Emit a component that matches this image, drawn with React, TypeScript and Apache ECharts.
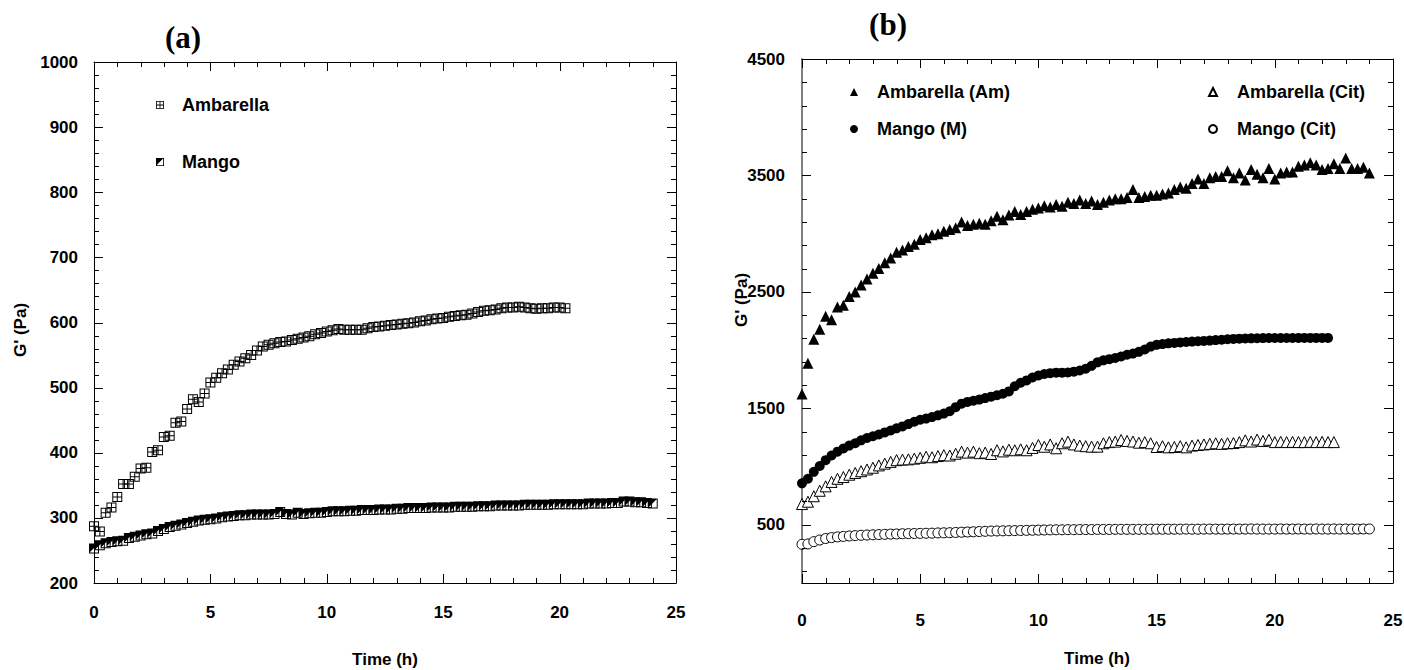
import React, { useEffect, useRef } from "react";
import * as echarts from "echarts";

// ---------- data ----------
const TIME_H = [
  0, 0.25, 0.5, 0.75, 1, 1.25, 1.5, 1.75, 2, 2.25, 2.5, 2.75, 3, 3.25, 3.5, 3.75,
  4, 4.25, 4.5, 4.75, 5, 5.25, 5.5, 5.75, 6, 6.25, 6.5, 6.75, 7, 7.25, 7.5, 7.75,
  8, 8.25, 8.5, 8.75, 9, 9.25, 9.5, 9.75, 10, 10.25, 10.5, 10.75, 11, 11.25, 11.5, 11.75,
  12, 12.25, 12.5, 12.75, 13, 13.25, 13.5, 13.75, 14, 14.25, 14.5, 14.75, 15, 15.25, 15.5, 15.75,
  16, 16.25, 16.5, 16.75, 17, 17.25, 17.5, 17.75, 18, 18.25, 18.5, 18.75, 19, 19.25, 19.5, 19.75,
  20, 20.25, 20.5, 20.75, 21, 21.25, 21.5, 21.75, 22, 22.25, 22.5, 22.75, 23, 23.25, 23.5, 23.75, 24,
];

// panel (a)
const A_AMBARELLA = [
  287, 279, 308, 316, 332, 352, 352, 363, 376, 377,
  401, 404, 424, 426, 446, 448, 467, 482, 478, 491,
  508, 515, 522, 528, 535, 540, 545, 550, 557, 563,
  566, 568, 570, 571, 573, 575, 577, 579, 582, 584,
  586, 588, 590, 589, 589, 589, 589, 591, 593, 594,
  595, 596, 597, 598, 599, 600, 602, 603, 605, 606,
  607, 609, 610, 611, 612, 614, 616, 618, 619, 620,
  622, 623, 623, 624, 623, 622, 621, 622, 622, 623,
  623, 622,
];
const A_MANGO = [
  253, 258, 261, 263, 264, 265, 269, 271, 273, 275,
  276, 280, 283, 286, 288, 290, 292, 294, 296, 297,
  298, 299, 301, 302, 303, 304, 304, 305, 305, 305,
  305, 306, 309, 306, 305, 308, 306, 307, 308, 308,
  309, 310, 310, 310, 311, 311, 312, 312, 312, 313,
  313, 313, 314, 314, 315, 315, 315, 315, 316, 316,
  316, 316, 317, 317, 317, 317, 318, 318, 318, 319,
  319, 319, 319, 319, 320, 320, 320, 320, 320, 321,
  321, 321, 321, 321, 321, 322, 322, 322, 322, 323,
  323, 325, 325, 324, 324, 323, 322,
];

// panel (b)
const B_AMBARELLA_AM = [
  1623, 1887, 2093, 2180, 2290, 2260, 2370, 2385, 2460, 2500,
  2560, 2610, 2660, 2700, 2750, 2790, 2840, 2860, 2890, 2910,
  2950, 2965, 2990, 3000, 3020, 3035, 3050, 3100, 3070, 3080,
  3090, 3080, 3110, 3150, 3120, 3160, 3190, 3165, 3190, 3210,
  3220, 3240, 3230, 3250, 3235, 3270, 3260, 3290, 3260, 3280,
  3250, 3270, 3290, 3300, 3300, 3310, 3380, 3310, 3320, 3330,
  3330, 3340, 3350, 3380, 3400, 3390, 3430, 3470, 3430, 3480,
  3490, 3490, 3540, 3480, 3520, 3460, 3550, 3510, 3480, 3560,
  3470, 3520, 3530, 3530, 3580, 3590, 3610, 3590, 3550, 3560,
  3600, 3560, 3650, 3560, 3560, 3570, 3520,
];
const B_MANGO_M = [
  856, 895, 955, 1005, 1055, 1095, 1128, 1155, 1180, 1200,
  1225, 1245, 1260, 1275, 1293, 1310, 1328, 1345, 1365, 1385,
  1402, 1412, 1425, 1440, 1455, 1475, 1510, 1540, 1555, 1565,
  1575, 1588, 1600, 1612, 1625, 1645, 1690, 1720, 1740, 1765,
  1782, 1795, 1802, 1806, 1806, 1808, 1815, 1825, 1840, 1865,
  1895, 1912, 1922, 1932, 1945, 1960, 1970, 1985, 2005, 2030,
  2045, 2052, 2058, 2062, 2066, 2070, 2073, 2076, 2079, 2082,
  2086, 2089, 2093, 2096, 2098, 2100, 2101, 2102, 2103, 2104,
  2104, 2104, 2104, 2104, 2105, 2105, 2105, 2105, 2105, 2105,
];
const B_AMBARELLA_CIT = [
  678, 698, 745, 792, 830, 868, 895, 910, 930, 945,
  960, 975, 990, 1010, 1025, 1040, 1055, 1060, 1062, 1068,
  1075, 1085, 1080, 1090, 1098, 1095, 1110, 1128, 1120, 1128,
  1115, 1120, 1108, 1140, 1130, 1145, 1140, 1148, 1140, 1160,
  1185, 1170, 1190, 1157, 1200, 1214, 1190, 1180, 1175, 1171,
  1171, 1200, 1210, 1214, 1228, 1220, 1215, 1205, 1210, 1200,
  1168, 1175, 1165, 1168, 1175, 1165, 1180, 1185, 1190, 1195,
  1200, 1195, 1200, 1202, 1210, 1225, 1215, 1232, 1220, 1230,
  1210, 1212, 1210, 1212, 1210, 1210, 1212, 1210, 1212, 1210,
  1210,
];
const B_MANGO_CIT = [
  332, 335, 355, 369, 382, 390, 396, 400, 404, 407,
  410, 412, 414, 416, 418, 420, 421, 423, 424, 425,
  426, 427, 428, 430, 431, 432, 434, 436, 438, 440,
  442, 444, 446, 447, 448, 449, 450, 451, 452, 453,
  454, 455, 456, 457, 457, 458, 458, 459, 459, 459,
  460, 460, 460, 461, 461, 461, 461, 461, 461, 462,
  462, 462, 462, 462, 462, 463, 462, 462, 463, 463,
  463, 462, 463, 463, 463, 463, 464, 463, 463, 463,
  463, 464, 463, 463, 464, 463, 463, 464, 463, 463,
  464, 463, 464, 463, 463, 464, 464,
];

// ---------- axes / ticks ----------
const X_RANGE = [0, 25];
const A_Y_RANGE = [200, 1000];
const B_Y_RANGE = [0, 4500];

const X_MAJOR = [0, 5, 10, 15, 20, 25];
const X_MINOR = [1, 2, 3, 4, 6, 7, 8, 9, 11, 12, 13, 14, 16, 17, 18, 19, 21, 22, 23, 24];
const A_Y_MAJOR = [200, 300, 400, 500, 600, 700, 800, 900, 1000];
const A_Y_MINOR = [
  220, 240, 260, 280, 320, 340, 360, 380, 420, 440, 460, 480, 520, 540, 560, 580,
  620, 640, 660, 680, 720, 740, 760, 780, 820, 840, 860, 880, 920, 940, 960, 980,
];
const B_Y_LABELS = [500, 1500, 2500, 3500, 4500];
const B_Y_MINOR = [
  100, 300, 700, 900, 1100, 1300, 1700, 1900, 2100, 2300,
  2700, 2900, 3100, 3300, 3700, 3900, 4100, 4300,
];

// ---------- styling ----------
const FONT = "Liberation Sans";
const MAJOR_LEN = 9;
const MINOR_LEN = 5;
const SYM_GRID =
  "path://M0,0H10V10H0Z M1,1V4.5H4.5V1Z M5.5,1V4.5H9V1Z M1,5.5V9H4.5V5.5Z M5.5,5.5V9H9V5.5Z";
const SYM_HALF = "path://M0,0H10V10H0Z M1,1V9H9V1Z M1,1H8.6L1,8.6Z";

const pairs = (vals: number[]) => vals.map((v, i) => [TIME_H[i], v]);

// tick items: [x, y, direction, length]; direction 0 = up from bottom, 1 = down from top,
// 2 = right from left, 3 = left from right
function tickItems(yRange: number[], yMajor: number[], yMinor: number[]) {
  const items: number[][] = [];
  X_MAJOR.forEach((t) => {
    items.push([t, yRange[0], 0, MAJOR_LEN], [t, yRange[1], 1, MAJOR_LEN]);
  });
  X_MINOR.forEach((t) => {
    items.push([t, yRange[0], 0, MINOR_LEN], [t, yRange[1], 1, MINOR_LEN]);
  });
  yMajor.forEach((v) => {
    items.push([X_RANGE[0], v, 2, MAJOR_LEN], [X_RANGE[1], v, 3, MAJOR_LEN]);
  });
  yMinor.forEach((v) => {
    items.push([X_RANGE[0], v, 2, MINOR_LEN], [X_RANGE[1], v, 3, MINOR_LEN]);
  });
  return items;
}

const renderTick = (params: any, api: any) => {
  const p = api.coord([api.value(0), api.value(1)]);
  const dir = api.value(2);
  const len = api.value(3);
  let x1 = p[0];
  let y1 = p[1];
  let x2 = x1;
  let y2 = y1;
  if (dir === 0 || dir === 1) {
    x1 = x2 = Math.round(x1) + 0.5;
    y2 = dir === 0 ? y1 - len : y1 + len;
  } else {
    y1 = y2 = Math.round(y1) + 0.5;
    x2 = dir === 2 ? x1 + len : x1 - len;
  }
  return {
    type: "line",
    shape: { x1, y1, x2, y2 },
    style: { stroke: "#000", lineWidth: 1 },
    silent: true,
  };
};

const labelStyle = (margin: number) => ({
  show: true,
  margin,
  color: "#000",
  fontSize: 17,
  fontWeight: "bold" as const,
  fontFamily: FONT,
  formatter: (v: number) => String(v),
});

function xAxis(grid: number, position: "bottom" | "top", labels: boolean, margin: number) {
  return {
    type: "value",
    gridIndex: grid,
    position,
    min: X_RANGE[0],
    max: X_RANGE[1],
    interval: 5,
    axisLine: { show: true, onZero: false, lineStyle: { color: "#000", width: 1 } },
    axisTick: { show: false },
    axisLabel: labels ? labelStyle(margin) : { show: false },
    splitLine: { show: false },
  };
}

function yAxisA(position: "left" | "right", labels: boolean) {
  return {
    type: "value",
    gridIndex: 0,
    position,
    min: A_Y_RANGE[0],
    max: A_Y_RANGE[1],
    interval: 100,
    axisLine: { show: true, onZero: false, lineStyle: { color: "#000", width: 1 } },
    axisTick: { show: false },
    axisLabel: labels ? labelStyle(16) : { show: false },
    splitLine: { show: false },
  };
}

function yAxisB(position: "left" | "right", labels: boolean, lineColor: string, lineWidth: number) {
  return {
    type: "value",
    gridIndex: 1,
    position,
    min: B_Y_RANGE[0],
    max: B_Y_RANGE[1],
    axisLine: { show: true, onZero: false, lineStyle: { color: lineColor, width: lineWidth } },
    axisTick: { show: false },
    axisLabel: labels ? { ...labelStyle(17), customValues: B_Y_LABELS } : { show: false },
    splitLine: { show: false },
  };
}

const legendText = (pad: number) => ({
  color: "#000",
  fontSize: 18,
  fontWeight: "bold" as const,
  fontFamily: FONT,
  lineHeight: 20,
  padding: [0, 0, 0, pad],
});

const titleFont = `bold 31px "Liberation Serif"`;
const axisNameFont = `bold 17px "${FONT}"`;

export default function App() {
  const ref = useRef<HTMLDivElement>(null);

  useEffect(() => {
    if (!ref.current) return;
    const chart = echarts.init(ref.current, undefined, { renderer: "svg" });
    const scatterBase = { type: "scatter", emphasis: { disabled: true } };
    const option: any = {
      animation: false,
      backgroundColor: "#fff",
      textStyle: { fontFamily: FONT },
      grid: [
        { left: 94, top: 62, width: 582, height: 521, containLabel: false, outerBoundsMode: "none" },
        { left: 802, top: 59, width: 591, height: 524, containLabel: false, outerBoundsMode: "none" },
      ],
      xAxis: [
        xAxis(0, "bottom", true, 21),
        xAxis(0, "top", false, 0),
        xAxis(1, "bottom", true, 29),
        xAxis(1, "top", false, 0),
      ],
      yAxis: [
        yAxisA("left", true),
        yAxisA("right", false),
        yAxisB("left", true, "#808080", 2),
        yAxisB("right", false, "#000", 1),
      ],
      legend: [
        {
          data: ["Ambarella", "Mango"],
          orient: "vertical",
          left: 151,
          top: 90,
          itemGap: 37,
          itemWidth: 8,
          itemHeight: 8,
          selectedMode: false,
          textStyle: legendText(13),
        },
        {
          data: ["Ambarella (Am)", "Mango (M)"],
          orient: "vertical",
          left: 845,
          top: 77,
          itemGap: 17,
          itemWidth: 8,
          itemHeight: 8,
          selectedMode: false,
          textStyle: legendText(14),
        },
        {
          data: ["Ambarella (Cit)", "Mango (Cit)"],
          orient: "vertical",
          left: 1203,
          top: 77,
          itemGap: 17,
          itemWidth: 8,
          itemHeight: 8,
          selectedMode: false,
          textStyle: legendText(15),
        },
      ],
      graphic: [
        { type: "text", x: 183, y: 37, style: { text: "(a)", font: titleFont, fill: "#000", textAlign: "center", textVerticalAlign: "middle" } },
        { type: "text", x: 888, y: 24, style: { text: "(b)", font: titleFont, fill: "#000", textAlign: "center", textVerticalAlign: "middle" } },
        { type: "text", x: 20, y: 330, rotation: Math.PI / 2, style: { text: "G' (Pa)", font: axisNameFont, fill: "#000", textAlign: "center", textVerticalAlign: "middle" } },
        { type: "text", x: 741, y: 300, rotation: Math.PI / 2, style: { text: "G' (Pa)", font: axisNameFont, fill: "#000", textAlign: "center", textVerticalAlign: "middle" } },
        { type: "text", x: 385, y: 659, style: { text: "Time (h)", font: axisNameFont, fill: "#000", textAlign: "center", textVerticalAlign: "middle" } },
        { type: "text", x: 1097, y: 658, style: { text: "Time (h)", font: axisNameFont, fill: "#000", textAlign: "center", textVerticalAlign: "middle" } },
      ],
      series: [
        {
          type: "custom",
          name: "ticksA",
          xAxisIndex: 0,
          yAxisIndex: 0,
          clip: false,
          silent: true,
          z: 5,
          renderItem: renderTick,
          data: tickItems(A_Y_RANGE, A_Y_MAJOR, A_Y_MINOR),
        },
        {
          type: "custom",
          name: "ticksB",
          xAxisIndex: 2,
          yAxisIndex: 2,
          clip: false,
          silent: true,
          z: 5,
          renderItem: renderTick,
          data: tickItems(B_Y_RANGE, B_Y_LABELS, B_Y_MINOR),
        },
        {
          ...scatterBase,
          name: "Ambarella",
          xAxisIndex: 0,
          yAxisIndex: 0,
          symbol: SYM_GRID,
          symbolSize: 10,
          itemStyle: { color: "#000", opacity: 1 },
          data: pairs(A_AMBARELLA),
        },
        {
          ...scatterBase,
          name: "Mango",
          xAxisIndex: 0,
          yAxisIndex: 0,
          symbol: SYM_HALF,
          symbolSize: 10,
          itemStyle: { color: "#000", opacity: 1 },
          data: pairs(A_MANGO),
        },
        {
          ...scatterBase,
          name: "Ambarella (Am)",
          xAxisIndex: 2,
          yAxisIndex: 2,
          symbol: "triangle",
          symbolSize: 11,
          itemStyle: { color: "#000", opacity: 1 },
          data: pairs(B_AMBARELLA_AM),
        },
        {
          ...scatterBase,
          name: "Mango (M)",
          xAxisIndex: 2,
          yAxisIndex: 2,
          symbol: "circle",
          symbolSize: 10,
          itemStyle: { color: "#000", opacity: 1 },
          data: pairs(B_MANGO_M),
        },
        {
          ...scatterBase,
          name: "Ambarella (Cit)",
          xAxisIndex: 2,
          yAxisIndex: 2,
          symbol: "triangle",
          symbolSize: 11,
          itemStyle: { color: "#fff", borderColor: "#000", borderWidth: 1, opacity: 1 },
          data: pairs(B_AMBARELLA_CIT),
        },
        {
          ...scatterBase,
          name: "Mango (Cit)",
          xAxisIndex: 2,
          yAxisIndex: 2,
          symbol: "circle",
          symbolSize: 10,
          itemStyle: { color: "#fff", borderColor: "#000", borderWidth: 1, opacity: 1 },
          data: pairs(B_MANGO_CIT),
        },
      ],
    };
    chart.setOption(option);
    return () => chart.dispose();
  }, []);

  return (
    <div
      ref={ref}
      style={{ position: "absolute", left: 0, top: 0, width: 1404, height: 670, background: "#fff" }}
    />
  );
}
